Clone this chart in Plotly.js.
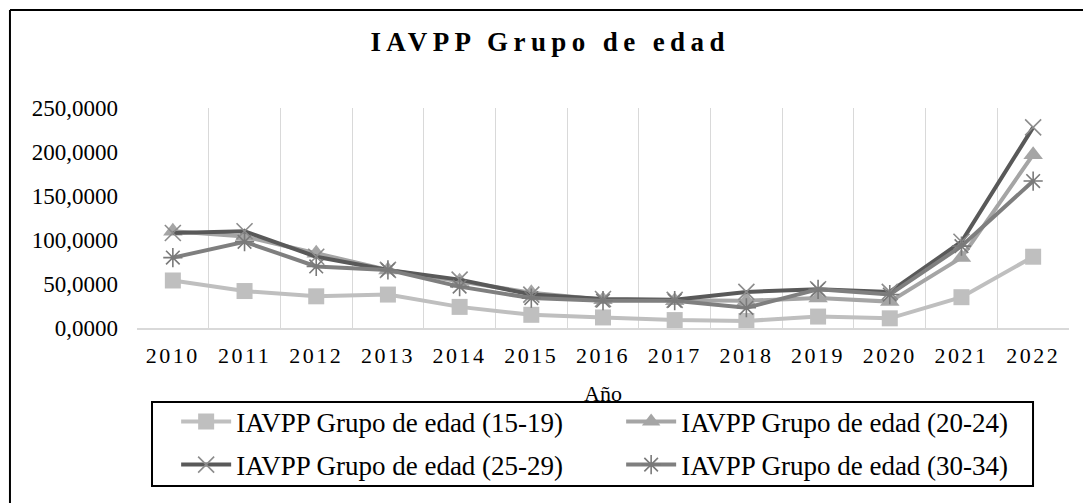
<!DOCTYPE html>
<html>
<head>
<meta charset="utf-8">
<script src="https://cdn.plot.ly/plotly-3.0.1.min.js"></script>
<style>
  html, body { margin: 0; padding: 0; background: #fff; }
  #chart { width: 1083px; height: 503px; }
  .gtitle { letter-spacing: 5.4px; }
  .xtick text { letter-spacing: 2.5px; }
</style>
</head>
<body>
<div id="chart"></div>
<script>
const years = ["2010","2011","2012","2013","2014","2015","2016","2017","2018","2019","2020","2021","2022"];
const seriesNames = [
  "IAVPP Grupo de edad (15-19)",
  "IAVPP Grupo de edad (20-24)",
  "IAVPP Grupo de edad (25-29)",
  "IAVPP Grupo de edad (30-34)"
];
const g15_19 = [54, 42, 36, 38, 24, 15, 12, 9, 8, 13, 11, 35, 81];
const g20_24 = [110, 104, 85, 66, 53, 40, 32, 31, 31, 34, 30, 80, 197];
const g25_29 = [108, 110, 81, 66, 55, 38, 33, 32, 41, 44, 41, 98, 228];
const g30_34 = [80, 98, 70, 66, 47, 34, 31, 31, 23, 44, 38, 93, 167];
const yTickVals = [0, 50, 100, 150, 200, 250];

const serif = "Liberation Serif, Times New Roman, serif";

const traces = [
  {x: years, y: g15_19, name: seriesNames[0], type: "scatter", mode: "lines+markers",
   line: {color: "#bfbfbf", width: 4}, marker: {symbol: "square", size: 16, color: "#bfbfbf"},
   legend: "legend"},
  {x: years, y: g20_24, name: seriesNames[1], type: "scatter", mode: "lines+markers",
   line: {color: "#a5a5a5", width: 4}, marker: {symbol: "triangle-up", size: 17, color: "#a5a5a5"},
   legend: "legend"},
  {x: years, y: g25_29, name: seriesNames[2], type: "scatter", mode: "lines+markers",
   line: {color: "#595959", width: 4},
   marker: {symbol: "x-thin-open", size: 16, color: "#8c8c8c", line: {color: "#8c8c8c", width: 1.6}},
   legend: "legend2"},
  {x: years, y: g30_34, name: seriesNames[3], type: "scatter", mode: "lines+markers",
   line: {color: "#7f7f7f", width: 4},
   marker: {symbol: "asterisk-open", size: 16, color: "#7a7a7a", line: {color: "#7a7a7a", width: 1.6}},
   legend: "legend2"}
];

const legendCommon = {
  orientation: "h", xanchor: "left", yanchor: "middle",
  x: 0.042, entrywidth: 380, entrywidthmode: "pixels", itemwidth: 50,
  bgcolor: "rgba(0,0,0,0)", borderwidth: 0,
  font: {family: serif, size: 27, color: "#000"}
};

const layout = {
  width: 1083, height: 503,
  margin: {l: 137, r: 14, t: 108, b: 175},
  paper_bgcolor: "#fff", plot_bgcolor: "#fff",
  separators: ",.",
  title: {text: "IAVPP Grupo de edad", x: 0.508, xref: "container", xanchor: "center",
          y: 0.918, yref: "container", yanchor: "middle",
          font: {family: serif, size: 27, color: "#000", weight: "bold"}},
  xaxis: {
    type: "category", range: [-0.5, 12.5], tickson: "boundaries",
    showgrid: true, gridcolor: "#d9d9d9", gridwidth: 1,
    showline: true, linecolor: "#d9d9d9", linewidth: 1.5,
    ticks: "", ticklabelstandoff: 7,
    tickfont: {family: serif, size: 22, color: "#000"},
    title: {text: "Año", standoff: 18, font: {family: serif, size: 22, color: "#000"}},
    zeroline: false, fixedrange: true
  },
  yaxis: {
    range: [0, 250], tickvals: yTickVals, tickformat: ".4f",
    showgrid: false, zeroline: false, showline: false, ticks: "",
    ticklabelstandoff: 18,
    tickfont: {family: serif, size: 23, color: "#000"},
    fixedrange: true
  },
  showlegend: true,
  legend: Object.assign({}, legendCommon, {y: -0.427}),
  legend2: Object.assign({}, legendCommon, {y: -0.623}),
  shapes: [
    {type: "line", xref: "paper", yref: "paper", x0: -0.1363, x1: -0.1363, y0: 1.4455, y1: -1.2,
     line: {color: "#000", width: 2}},
    {type: "line", xref: "paper", yref: "paper", x0: -0.1363, x1: 1.2, y0: 1.4455, y1: 1.4455,
     line: {color: "#000", width: 2}},
    {type: "rect", xref: "paper", yref: "paper", x0: 0.0161, x1: 0.9614, y0: -0.718, y1: -0.336,
     line: {color: "#000", width: 2}, fillcolor: "rgba(0,0,0,0)"}
  ]
};

Plotly.newPlot("chart", traces, layout, {displayModeBar: false, staticPlot: true});
</script>
</body>
</html>
